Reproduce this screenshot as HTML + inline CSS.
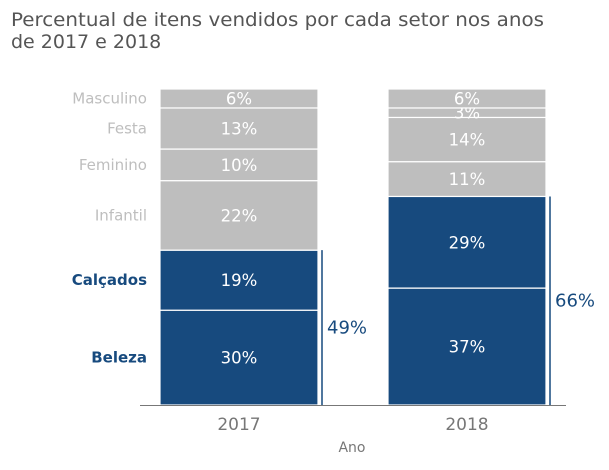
<!DOCTYPE html>
<html><head><meta charset="utf-8">
<style>
body{margin:0;background:#fff;font-family:"DejaVu Sans","Liberation Sans",sans-serif;}
</style></head>
<body>
<svg width="609" height="466" xmlns="http://www.w3.org/2000/svg" font-family="DejaVu Sans, Liberation Sans, sans-serif">
<text x="11" y="26" font-size="19" fill="#555" textLength="533" lengthAdjust="spacingAndGlyphs">Percentual de itens vendidos por cada setor nos anos</text>
<text x="11" y="48" font-size="19" fill="#555">de 2017 e 2018</text>
<g id="plot"></g>
</svg>
<script>
const years=["2017","2018"];
const categories=["Beleza","Calçados","Infantil","Feminino","Festa","Masculino"];
const values2017=[30,19,22,10,13,6];
const values2018=[37,29,11,14,3,6];
const highlighted=[true,true,false,false,false,false];
const series=[values2017,values2018];
const y0=405,pxPer=3.16,barW=158,barX=[160,388];
const yScale=v=>y0-v*pxPer;
const ns="http://www.w3.org/2000/svg";
const g=document.getElementById('plot');
function mk(t,a,p){const e=document.createElementNS(ns,t);for(const k in a)e.setAttribute(k,a[k]);(p||g).appendChild(e);return e;}
series.forEach((vals,i)=>{
  let cum=0,hi=0;
  vals.forEach((v,j)=>{
    const top=yScale(cum+v),bot=yScale(cum);
    const r=mk('rect',{x:barX[i],y:top,width:barW,height:bot-top,fill:highlighted[j]?'#174a7e':'#bebebe',stroke:'#fff','stroke-width':1.2});
    
    
    const t=mk('text',{x:barX[i]+barW/2,y:(top+bot)/2+6,'text-anchor':'middle','font-size':16.5,fill:'#fff'});
    t.textContent=v+'%';
    
    
    if(i===0){
      const c=mk('text',{x:147,y:(top+bot)/2+5,'text-anchor':'end','font-size':15,fill:highlighted[j]?'#174a7e':'#bebebe','font-weight':highlighted[j]?'bold':'normal'});
      c.textContent=categories[j];
      
      
    }
    if(highlighted[j])hi+=v;
    cum+=v;
  });
  const bx=barX[i]+barW+4;
  const l=mk('line',{x1:bx,x2:bx,y1:yScale(hi),y2:y0,stroke:'#174a7e','stroke-width':1.5});
  
  
  const s=mk('text',{x:bx+5,y:(yScale(hi)+y0)/2+6,'font-size':18,fill:'#174a7e'});
  s.textContent=hi+'%';
  
  
  const xt=mk('text',{x:barX[i]+barW/2,y:430,'text-anchor':'middle','font-size':17,fill:'#777'});
  xt.textContent=years[i];
  
  
});
const ax=mk('line',{x1:140,x2:566,y1:y0+0.5,y2:y0+0.5,stroke:'#777','stroke-width':1});


const at=mk('text',{x:352,y:452,'text-anchor':'middle','font-size':14,fill:'#777'});
at.textContent='Ano';


</script>
</body></html>
